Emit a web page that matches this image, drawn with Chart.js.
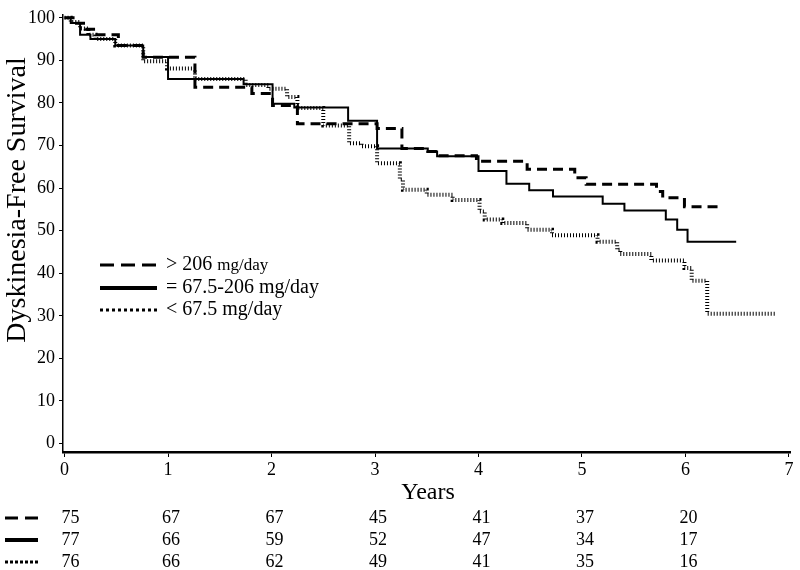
<!DOCTYPE html>
<html>
<head>
<meta charset="utf-8">
<script src="https://cdn.jsdelivr.net/npm/chart.js@4/dist/chart.umd.min.js"></script>
<style>
  html, body { margin: 0; padding: 0; background: #fff; }
  canvas { display: block; }
</style>
</head>
<body>
<canvas id="kmChart" width="800" height="570"></canvas>
<script>
// --- DATA ---

// > 206 mg/day (dashed)
const highTimes = [0, 0.1, 0.2, 0.3, 0.52, 0.76, 1.26, 1.81, 2.01, 2.25, 3.02, 3.26, 3.51, 3.6, 3.98, 4.47, 4.93, 5.04, 5.72, 5.78, 5.99, 6.35];
const highSurv  = [100, 98.7, 97.3, 96, 93.5, 90.7, 83.7, 82.2, 79.4, 75.1, 74, 69.3, 68.6, 67.6, 66.3, 64.4, 62.4, 60.9, 59.2, 57.7, 55.6, 55.6];

// = 67.5-206 mg/day (solid)
const midTimes = [0, 0.06, 0.15, 0.25, 0.49, 0.76, 1.0, 1.73, 2.01, 2.22, 2.74, 3.02, 3.51, 3.6, 4.0, 4.27, 4.49, 4.72, 5.2, 5.41, 5.81, 5.92, 6.02, 6.49];
const midSurv  = [100, 98.8, 96, 95, 93.5, 90.8, 85.6, 84.4, 79.8, 78.9, 75.8, 69.3, 68.6, 67.5, 64, 61, 59.5, 58, 56.3, 54.7, 52.6, 50.2, 47.4, 47.4];

// < 67.5 mg/day (dotted)
const lowTimes = [0, 0.06, 0.15, 0.23, 0.3, 0.49, 0.76, 0.99, 1.26, 1.75, 1.97, 2.15, 2.25, 2.5, 2.75, 2.87, 3.02, 3.24, 3.27, 3.5, 3.75, 4.01, 4.06, 4.23, 4.47, 4.71, 5.15, 5.34, 5.37, 5.67, 5.99, 6.06, 6.21, 6.87];
const lowSurv  = [100, 99, 97.5, 96, 95, 93.5, 89.8, 88.1, 85.6, 84.2, 83.3, 81.4, 78.8, 74.7, 70.5, 69.8, 65.8, 62, 59.6, 58.4, 57.2, 54.5, 52.6, 51.8, 50.2, 48.9, 47.4, 45.5, 44.5, 43, 41.2, 38.2, 30.5, 30.5];

// axis ticks
const yearTicks = [0, 1, 2, 3, 4, 5, 6, 7];
const survTicks = [0, 10, 20, 30, 40, 50, 60, 70, 80, 90, 100];

// numbers at risk
const riskHigh = [75, 67, 67, 45, 41, 37, 20];
const riskMid  = [77, 66, 59, 52, 47, 34, 17];
const riskLow  = [76, 66, 62, 49, 41, 35, 16];

// legend / table labels
const groupNames = ['> 206', '= 67.5-206 mg/day', '< 67.5 mg/day'];

// --- HELPERS ---
const serif = '"Liberation Serif", "Times New Roman", serif';
const toPoints = (ts, ss) => ts.map((t, i) => ({ x: t, y: ss[i] }));

const lineStyles = [
  { width: 3, dash: [10, 6] },   // high
  { width: 2, dash: [] },        // mid
  { width: 4, dash: [1, 2] }     // low (hatched look)
];

function sampleLine(ctx, x1, x2, y, width, dash) {
  ctx.save();
  ctx.strokeStyle = '#000';
  ctx.lineWidth = width;
  ctx.setLineDash(dash);
  ctx.lineCap = 'butt';
  ctx.beginPath();
  ctx.moveTo(x1, y);
  ctx.lineTo(x2, y);
  ctx.stroke();
  ctx.restore();
}

// --- TEXT / LEGEND / RISK TABLE PLUGIN ---
const extrasPlugin = {
  id: 'extras',
  afterDraw(chart) {
    const ctx = chart.ctx;
    const xs = chart.scales.x;
    ctx.save();
    ctx.fillStyle = '#000';

    // y title
    ctx.save();
    ctx.translate(18, 200);
    ctx.rotate(-Math.PI / 2);
    ctx.font = '28px ' + serif;
    ctx.textAlign = 'center';
    ctx.textBaseline = 'middle';
    ctx.fillText('Dyskinesia-Free Survival', 0, 0);
    ctx.restore();

    // x title
    ctx.font = '24px ' + serif;
    ctx.textAlign = 'center';
    ctx.textBaseline = 'middle';
    ctx.fillText('Years', 428, 493);

    // legend inside plot
    const legY = [265, 288, 310];
    sampleLine(ctx, 100, 157, legY[0], 3, [14, 7]);
    sampleLine(ctx, 100, 157, legY[1], 4, []);
    sampleLine(ctx, 100, 157, legY[2], 3, [3, 3]);
    ctx.textAlign = 'left';
    ctx.font = '20px ' + serif;
    ctx.fillText(groupNames[0], 166, legY[0]);
    const w = ctx.measureText(groupNames[0] + ' ').width;
    ctx.font = '17px ' + serif;
    ctx.fillText('mg/day', 166 + w, legY[0] + 1);
    ctx.font = '20px ' + serif;
    ctx.fillText(groupNames[1], 166, legY[1]);
    ctx.fillText(groupNames[2], 166, legY[2]);

    // numbers at risk
    const rows = [riskHigh, riskMid, riskLow];
    const rowY = [518, 540, 562];
    sampleLine(ctx, 5, 38, rowY[0], 3, [13, 7]);
    sampleLine(ctx, 5, 38, rowY[1], 4, []);
    sampleLine(ctx, 5, 38, rowY[2], 3, [3, 2]);
    ctx.font = '18px ' + serif;
    ctx.textAlign = 'center';
    rows.forEach((r, ri) => {
      r.forEach((n, i) => {
        const px = xs.getPixelForValue(yearTicks[i]) + 3;
        ctx.fillText(String(n), i === 0 ? px + 3 : px, rowY[ri]);
      });
    });
    ctx.restore();
  }
};

// --- CHART ---
const ctx = document.getElementById('kmChart').getContext('2d');
const kmChart = new Chart(ctx, {
  type: 'line',
  data: {
    datasets: [
      { label: '> 206 mg/day', data: toPoints(highTimes, highSurv), order: 0 },
      { label: '= 67.5-206 mg/day', data: toPoints(midTimes, midSurv), order: 1 },
      { label: '< 67.5 mg/day', data: toPoints(lowTimes, lowSurv), order: 2 }
    ].map((d, i) => ({
      ...d,
      stepped: true,
      borderColor: '#000',
      borderWidth: lineStyles[i].width,
      borderDash: lineStyles[i].dash,
      borderCapStyle: 'butt',
      pointRadius: 0,
      fill: false
    }))
  },
  options: {
    responsive: false,
    animation: false,
    layout: { padding: { top: 10, right: 10, left: 0, bottom: 0 } },
    plugins: {
      legend: { display: false },
      tooltip: { enabled: false }
    },
    scales: {
      x: {
        type: 'linear',
        min: -0.015,
        max: 7.01,
        afterBuildTicks: s => { s.ticks = yearTicks.map(v => ({ value: v })); },
        afterFit: s => { s.height = 118; },
        border: { display: true, color: '#000', width: 2.5 },
        grid: { display: true, drawOnChartArea: false, tickLength: 5, tickColor: '#000', tickWidth: 1 },
        ticks: { color: '#000', font: { family: serif, size: 18 }, padding: 2, maxRotation: 0 }
      },
      y: {
        type: 'linear',
        min: -2,
        max: 100.7,
        afterBuildTicks: s => { s.ticks = survTicks.map(v => ({ value: v })); },
        afterFit: s => { s.width = 63; },
        border: { display: true, color: '#000', width: 1.5 },
        grid: { display: true, drawOnChartArea: false, tickLength: 4, tickColor: '#000', tickWidth: 1 },
        ticks: { color: '#000', font: { family: serif, size: 18 }, padding: 4 }
      }
    }
  },
  plugins: [extrasPlugin]
});
</script>
</body>
</html>
